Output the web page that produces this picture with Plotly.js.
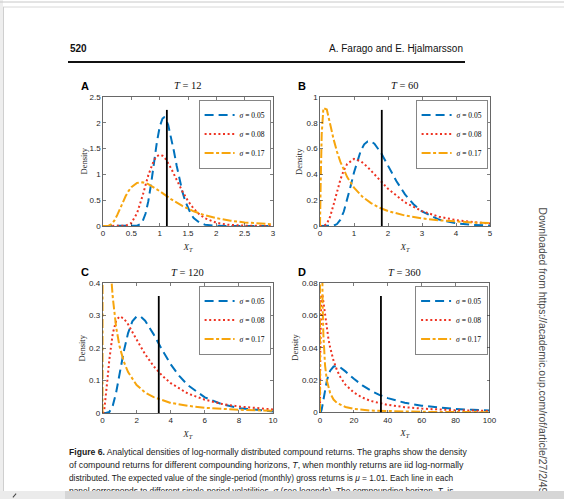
<!DOCTYPE html>
<html><head><meta charset="utf-8">
<script src="https://cdn.plot.ly/plotly-3.0.1.min.js"></script>
<style>
html,body{margin:0;padding:0;background:#fff;}
#page{position:relative;width:564px;height:499px;overflow:hidden;}
#wrap{position:absolute;left:0;top:0;width:564px;height:491px;overflow:hidden;}
#chart{width:564px;height:499px;}
#barL{position:absolute;left:0;top:491px;width:65px;height:8px;background:#ebebeb;}
#barR{position:absolute;left:65px;top:491px;width:499px;height:8px;background:#d6d6d6;}
#glyph{position:absolute;left:14px;top:493px;width:1px;height:5px;background:#444;transform:rotate(40deg);}
</style></head>
<body><div id="page"><div id="wrap"><div id="chart"></div></div><div id="barL"></div><div id="barR"></div><div id="glyph"></div></div>
<script>
// ---------------- data ----------------
const horizons = [12, 60, 120, 360];
const panelLetters = ['A', 'B', 'C', 'D'];
const sigmaLabels = ['<i>σ</i> = 0.05', '<i>σ</i> = 0.08', '<i>σ</i> = 0.17'];

// Panel A, T = 12
const xA05 = [0, 0.5, 0.6, 0.65, 0.7, 0.75, 0.8, 0.85, 0.9, 0.95, 1.0, 1.05, 1.08, 1.1, 1.15, 1.2, 1.25, 1.3, 1.35, 1.4, 1.45, 1.5, 1.55, 1.6, 1.7, 1.8, 2.0, 2.2, 2.5, 3.0];
const yA05 = [0, 0.0001, 0.007, 0.030, 0.095, 0.237, 0.482, 0.827, 1.229, 1.618, 1.920, 2.083, 2.106, 2.091, 1.961, 1.735, 1.457, 1.169, 0.901, 0.670, 0.483, 0.339, 0.232, 0.155, 0.066, 0.026, 0.004, 0.0004, 0, 0];
const xA08 = [0, 0.3, 0.4, 0.5, 0.6, 0.7, 0.8, 0.9, 0.95, 1.0, 1.05, 1.1, 1.2, 1.3, 1.4, 1.5, 1.6, 1.7, 1.8, 2.0, 2.2, 2.5, 3.0];
const yA08 = [0, 0.0001, 0.0055, 0.058, 0.246, 0.591, 0.986, 1.276, 1.352, 1.380, 1.362, 1.307, 1.122, 0.894, 0.672, 0.484, 0.336, 0.227, 0.150, 0.063, 0.025, 0.006, 0.0006];
const xA17 = [0, 0.05, 0.1, 0.15, 0.2, 0.25, 0.3, 0.35, 0.4, 0.45, 0.5, 0.6, 0.7, 0.8, 0.9, 1.0, 1.2, 1.4, 1.6, 1.8, 2.0, 2.25, 2.5, 2.75, 3.0];
const yA17 = [0, 0, 0.005, 0.034, 0.104, 0.210, 0.336, 0.463, 0.580, 0.677, 0.752, 0.836, 0.848, 0.813, 0.750, 0.675, 0.521, 0.389, 0.285, 0.208, 0.152, 0.102, 0.070, 0.048, 0.033];

// Panel B, T = 60
const xB05 = [0, 0.3, 0.4, 0.5, 0.6, 0.7, 0.8, 0.9, 1.0, 1.1, 1.2, 1.3, 1.4, 1.5, 1.6, 1.8, 2.0, 2.25, 2.5, 2.75, 3.0, 3.5, 4.0, 4.5, 5.0];
const yB05 = [0, 0.0002, 0.0026, 0.015, 0.049, 0.112, 0.202, 0.308, 0.415, 0.510, 0.584, 0.633, 0.656, 0.656, 0.638, 0.564, 0.467, 0.347, 0.245, 0.169, 0.113, 0.050, 0.021, 0.009, 0.004];
const xB08 = [0, 0.1, 0.2, 0.3, 0.4, 0.5, 0.6, 0.7, 0.8, 1.0, 1.2, 1.4, 1.6, 1.8, 2.0, 2.5, 3.0, 3.5, 4.0, 4.5, 5.0];
const yB08 = [0, 0.0005, 0.016, 0.074, 0.166, 0.268, 0.360, 0.432, 0.481, 0.520, 0.503, 0.457, 0.400, 0.342, 0.289, 0.183, 0.115, 0.072, 0.046, 0.030, 0.020];
const xB17 = [0, 0.005, 0.01, 0.02, 0.05, 0.1, 0.2, 0.3, 0.4, 0.5, 0.6, 0.8, 1.0, 1.25, 1.5, 1.75, 2.0, 2.5, 3.0, 3.5, 4.0, 4.5, 5.0];
const yB17 = [0, 0.041, 0.134, 0.331, 0.711, 0.915, 0.903, 0.785, 0.672, 0.576, 0.497, 0.379, 0.297, 0.226, 0.177, 0.142, 0.116, 0.081, 0.059, 0.044, 0.034, 0.027, 0.022];

// Panel C, T = 120
const xC05 = [0, 0.2, 0.4, 0.6, 0.8, 1.0, 1.25, 1.5, 1.75, 2.0, 2.25, 2.5, 3.0, 3.5, 4.0, 4.5, 5.0, 6, 7, 8, 9, 10];
const yC05 = [0, 0, 0.003, 0.022, 0.063, 0.118, 0.190, 0.246, 0.282, 0.297, 0.296, 0.284, 0.242, 0.194, 0.150, 0.114, 0.086, 0.048, 0.027, 0.015, 0.009, 0.005];
const xC08 = [0, 0.05, 0.1, 0.2, 0.3, 0.4, 0.5, 0.6, 0.8, 1.0, 1.25, 1.5, 2.0, 2.5, 3.0, 3.5, 4.0, 5, 6, 7, 8, 9, 10];
const yC08 = [0, 0.0007, 0.008, 0.050, 0.108, 0.164, 0.209, 0.244, 0.284, 0.297, 0.291, 0.273, 0.226, 0.181, 0.144, 0.115, 0.092, 0.060, 0.041, 0.028, 0.020, 0.015, 0.011];
const xC17 = [0, 0.0002, 0.0005, 0.001, 0.018, 0.1, 0.2, 0.3, 0.4, 0.5, 0.6, 0.8, 1.0, 1.25, 1.5, 2.0, 2.5, 3.0, 4.0, 5.0, 6.0, 7.0, 8.0, 10.0];
const yC17 = [0, 0.110, 0.324, 0.619, 2.082, 1.369, 0.908, 0.670, 0.525, 0.427, 0.357, 0.264, 0.205, 0.158, 0.126, 0.086, 0.063, 0.049, 0.031, 0.022, 0.016, 0.013, 0.010, 0.007];

// Panel D, T = 360
const xD05 = [0, 0.5, 1, 2, 3, 4, 5, 6, 8, 10, 12, 15, 20, 25, 30, 35, 40, 50, 60, 70, 80, 90, 100];
const yD05 = [0, 0.0003, 0.0018, 0.0077, 0.0141, 0.0193, 0.0232, 0.0258, 0.0284, 0.0287, 0.0278, 0.0254, 0.0208, 0.0168, 0.0135, 0.0109, 0.0089, 0.0060, 0.0042, 0.0030, 0.0022, 0.0017, 0.0013];
const xD08 = [0, 0.01, 0.1, 0.2, 0.3, 0.5, 0.75, 1, 1.5, 2, 3, 4, 5, 6, 8, 10, 12, 15, 20, 25, 30, 40, 50, 60, 70, 80, 90, 100];
const yD08 = [0, 0.0006, 0.0203, 0.0381, 0.0499, 0.0633, 0.0705, 0.0730, 0.0720, 0.0683, 0.0596, 0.0519, 0.0454, 0.0401, 0.0320, 0.0262, 0.0219, 0.0172, 0.0123, 0.0092, 0.0071, 0.0047, 0.0033, 0.0024, 0.0018, 0.0014, 0.0012, 0.0009];
const xD17 = [0, 0.01, 0.1, 0.5, 1, 1.25, 1.5, 2, 3, 4, 5, 6, 8, 10, 15, 20, 30, 40, 50, 60, 80, 100];
const yD17 = [0, 8.06, 1.209, 0.237, 0.109, 0.084, 0.068, 0.048, 0.029, 0.020, 0.015, 0.012, 0.008, 0.0059, 0.0034, 0.0022, 0.0012, 0.0008, 0.0006, 0.0004, 0.0003, 0.0002];

// expected value mu^T (vertical line) and its drawn height
const meanX = [1.127, 1.817, 3.300, 35.95];
const meanTop = [2.25, 0.9, 0.36, 0.072];

// axis ranges and tick steps
const xMax = [3, 5, 10, 100];
const yMax = [2.5, 1, 0.4, 0.08];
const xStep = [0.5, 1, 2, 20];
const yStep = [0.5, 0.2, 0.1, 0.02];

// ---------------- layout helpers ----------------
const W = 564, H = 499;
const px = v => v / W;
const py = v => 1 - v / H;
const boxes = [ // [left, right, top, bottom] in pixels
  [103, 273, 97, 226],
  [320, 490, 97, 226],
  [102.5, 273, 283, 413],
  [320, 489.5, 283, 412.5]
];
const yTitleGap = [20, 21.5, 21, 25];
const colors = ['#0072BD', '#EE3322', '#F7A50D'];
const dashes = ['9px,5px', '2px,2.6px', '9px,2.5px,3px,2.5px'];
const seriesX = [[xA05, xA08, xA17], [xB05, xB08, xB17], [xC05, xC08, xC17], [xD05, xD08, xD17]];
const seriesY = [[yA05, yA08, yA17], [yB05, yB08, yB17], [yC05, yC08, yC17], [yD05, yD08, yD17]];

const traces = [];
const layout = {
  width: W, height: H, margin: {l: 0, r: 0, t: 0, b: 0},
  paper_bgcolor: '#fff', plot_bgcolor: '#fff',
  showlegend: true, annotations: [], shapes: []
};
const sans = 'Liberation Sans, Arial, sans-serif';
const serif = 'Liberation Serif, Times New Roman, serif';
const axFont = {family: sans, size: 8, color: '#262626'};

for (let i = 0; i < 4; i++) {
  const s = i === 0 ? '' : String(i + 1);
  const legName = 'legend' + s;
  const [l, r, t, b] = boxes[i];
  for (let k = 0; k < 3; k++) {
    traces.push({
      type: 'scatter', mode: 'lines', x: seriesX[i][k], y: seriesY[i][k],
      name: sigmaLabels[k], xaxis: 'x' + s, yaxis: 'y' + s, legend: legName,
      line: {color: colors[k], width: 2, dash: dashes[k]}, hoverinfo: 'skip'
    });
  }
  traces.push({
    type: 'scatter', mode: 'lines', x: [meanX[i], meanX[i]], y: [0, meanTop[i]],
    xaxis: 'x' + s, yaxis: 'y' + s, showlegend: false,
    line: {color: '#000', width: 1.8}, hoverinfo: 'skip'
  });
  const common = {
    showline: true, linecolor: '#262626', linewidth: 0.7, mirror: 'ticks',
    ticks: 'inside', ticklen: 3, tickwidth: 0.6, tickcolor: '#262626',
    showgrid: false, zeroline: false, tickfont: axFont, tick0: 0, fixedrange: true
  };
  layout['xaxis' + s] = Object.assign({}, common, {
    domain: [px(l), px(r)], range: [0, xMax[i]], dtick: xStep[i], anchor: 'y' + s,
    title: {text: '<i>X<sub>T</sub></i>', font: {family: serif, size: 9, color: '#262626'}, standoff: 5.5}
  });
  layout['yaxis' + s] = Object.assign({}, common, {
    domain: [py(b), py(t)], range: [0, yMax[i]], dtick: yStep[i], anchor: 'x' + s
  });
  // y-axis title placed close to the tick labels as in the reference
  layout.annotations.push({
    xref: 'paper', yref: 'paper', x: px(l - yTitleGap[i]), y: py((t + b) / 2), xanchor: 'center', yanchor: 'middle',
    text: 'Density', textangle: -90, showarrow: false, font: {family: serif, size: 8.5, color: '#262626'}
  });
  layout[legName] = {
    x: px(r - 2), xanchor: 'right', y: py(t + 3), yanchor: 'top',
    bgcolor: '#fff', bordercolor: '#333', borderwidth: 0.6,
    font: {family: serif, size: 7.5, color: '#000'}, itemwidth: 30, tracegroupgap: 0
  };
  // subplot title and panel letter
  layout.annotations.push({
    xref: 'paper', yref: 'paper', x: px((l + r) / 2), y: py(t - 11), xanchor: 'center', yanchor: 'middle',
    text: '<i>T</i> = ' + horizons[i], showarrow: false, font: {family: serif, size: 10.5, color: '#111'}
  });
  layout.annotations.push({
    xref: 'paper', yref: 'paper', x: px(l - 18), y: py(t - 11), xanchor: 'center', yanchor: 'middle',
    text: '<b>' + panelLetters[i] + '</b>', showarrow: false, font: {family: sans, size: 11, color: '#000'}
  });
}

// page header, caption, side note
const headerLeft = '520';
const headerRight = 'A. Farago and E. Hjalmarsson';
const captionLines = [
  '<b>Figure 6.</b> Analytical densities of log-normally distributed compound returns. The graphs show the density',
  'of compound returns for different compounding horizons, <i>T</i>, when monthly returns are iid log-normally',
  'distributed. The expected value of the single-period (monthly) gross returns is <i>μ</i> = 1.01. Each line in each',
  'panel corresponds to different single-period volatilities, <i>σ</i> (see legends). The compounding horizon, <i>T</i>, is'
];
const captionSizes = [8.6, 8.8, 8.3, 8.4];
const sideNote = 'Downloaded from https://academic.oup.com/rof/article/27/2/495/';
layout.annotations.push({xref: 'paper', yref: 'paper', x: px(68), y: py(49), xanchor: 'left', yanchor: 'middle',
  text: '<b>' + headerLeft + '</b>', showarrow: false, font: {family: sans, size: 10, color: '#111'}});
layout.annotations.push({xref: 'paper', yref: 'paper', x: px(465), y: py(49), xanchor: 'right', yanchor: 'middle',
  text: headerRight, showarrow: false, font: {family: sans, size: 10, color: '#111'}});
captionLines.forEach((txt, j) => {
  layout.annotations.push({xref: 'paper', yref: 'paper', x: px(67), y: py(452 + 13 * j), xanchor: 'left', yanchor: 'middle',
    text: txt, showarrow: false, font: {family: sans, size: captionSizes[j], color: '#1a1a1a'}});
});
layout.annotations.push({xref: 'paper', yref: 'paper', x: px(542), y: py(205), xanchor: 'center', yanchor: 'top',
  text: sideNote, textangle: 90, showarrow: false, font: {family: sans, size: 10.4, color: '#4a4a4a'}});

// page frame and header rule
layout.shapes.push(
  {type: 'rect', xref: 'paper', yref: 'paper', x0: 0, x1: px(3), y0: 0, y1: 1, fillcolor: '#eeeeee', line: {width: 0}, layer: 'below'},
  {type: 'line', xref: 'paper', yref: 'paper', x0: 0, x1: 1, y0: py(2), y1: py(2), line: {color: '#c8c8c8', width: 1}},
  {type: 'line', xref: 'paper', yref: 'paper', x0: px(3), x1: 1, y0: py(7), y1: py(7), line: {color: '#d8d8d8', width: 1}},
  {type: 'line', xref: 'paper', yref: 'paper', x0: px(3.5), x1: px(3.5), y0: 0, y1: py(7), line: {color: '#cfcfcf', width: 1}},
  {type: 'line', xref: 'paper', yref: 'paper', x0: px(68), x1: px(465), y0: py(62), y1: py(62), line: {color: '#111', width: 1.8}}
);

Plotly.newPlot('chart', traces, layout, {staticPlot: true, displayModeBar: false});
</script></body></html>
